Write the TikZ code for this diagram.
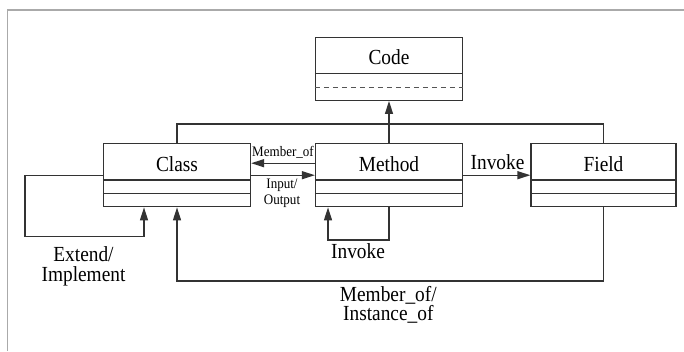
\documentclass[tikz,border=0pt]{standalone}
\usepackage{fontspec}
\setmainfont{Liberation Serif}
\usetikzlibrary{arrows.meta,calc}
\definecolor{ink}{HTML}{333333}
\definecolor{framegray}{HTML}{AAAAAA}
\definecolor{dashgray}{HTML}{555555}
\begin{document}
\begin{tikzpicture}[x=1pt,y=-1pt,
  umlbox/.style={draw=ink, line width=1.3pt, minimum height=63pt, inner sep=0pt},
  txt/.style={anchor=base, inner sep=0pt, align=center, xscale=0.9, transform shape},
  title/.style={txt, font=\fontsize{21.5}{21.5}\selectfont},
  biglabel/.style={txt, font=\fontsize{21.5}{19.7}\selectfont},
  smalllabel/.style={txt, font=\fontsize{14.5}{15.7}\selectfont},
  conn/.style={draw=ink, line width=1.3pt},
  arr/.style={conn, -{Triangle[length=13pt,width=8pt]}},
]
\useasboundingbox (0,0) rectangle (684,351);

% frame
\draw[framegray, line width=1.5pt] (7.5,351) -- (7.5,10) -- (684,10);

% class boxes
\node[umlbox, minimum width=147pt] (code)   at (389,68.8)  {};
\node[umlbox, minimum width=147pt] (class)  at (177,175.2) {};
\node[umlbox, minimum width=147pt] (method) at (389,175.2) {};
\node[umlbox, minimum width=145pt] (field)  at (603.5,175.2) {};

% compartments
\foreach \b in {class,method,field}{
  \draw[conn] ([yshift=-37pt]\b.north west) -- ([yshift=-37pt]\b.north east);
  \draw[conn] ([yshift=-50.5pt]\b.north west) -- ([yshift=-50.5pt]\b.north east);
}
\draw[conn] ([yshift=-37pt]code.north west) -- ([yshift=-37pt]code.north east);
\draw[draw=dashgray, line width=1.3pt, dash pattern=on 5pt off 4pt]
  ([yshift=-50.5pt]code.north west) -- ([yshift=-50.5pt]code.north east);

% titles
\node[title] (code-t)   at ([yshift=-28pt]code.north)   {Code};
\node[title] (class-t)  at ([yshift=-28pt]class.north)  {Class};
\node[title] (method-t) at ([yshift=-28pt]method.north) {Method};
\node[title] (field-t)  at ([yshift=-28pt]field.north)  {Field};

% generalisation towards Code
\coordinate (bus) at (389,124);
\draw[conn] (class.north) |- (bus) -| (field.north);
\draw[arr] (method.north) -- (code.south);

% Class <-> Method (base anchor of a two-line label is its last line)
\draw[arr] ([yshift=12pt]method.west) -- ([yshift=12pt]class.east);
\draw[arr] (class.east) -- (method.west);
\node[smalllabel] (memberof) at (283,156.7) {Member\_of};
\node[smalllabel] (io) at (282,204.0) {Input/\\Output};

% Method -> Field
\draw[arr] (method.east) -- (field.west);
\node[biglabel] (inv1) at (497.5,169) {Invoke};

% Method self invocation
\draw[arr] (method.south) -- ++(0,32.6) -| ([xshift=-61pt]method.south);
\node[biglabel] (inv2) at (358,258.3) {Invoke};

% Class inheritance loop
\draw[arr] (class.west) -- ++(-78,0) -- ++(0,61.4) -| ([xshift=-33pt]class.south);
\node[biglabel] (ext) at (83.5,281.0) {Extend/\\Implement};

% Field -> Class
\draw[arr] (field.south) -- ++(0,73.5) -| (class.south);
\node[biglabel] (mem) at (388.3,320.7) {Member\_of/\\Instance\_of};
\end{tikzpicture}
\end{document}
